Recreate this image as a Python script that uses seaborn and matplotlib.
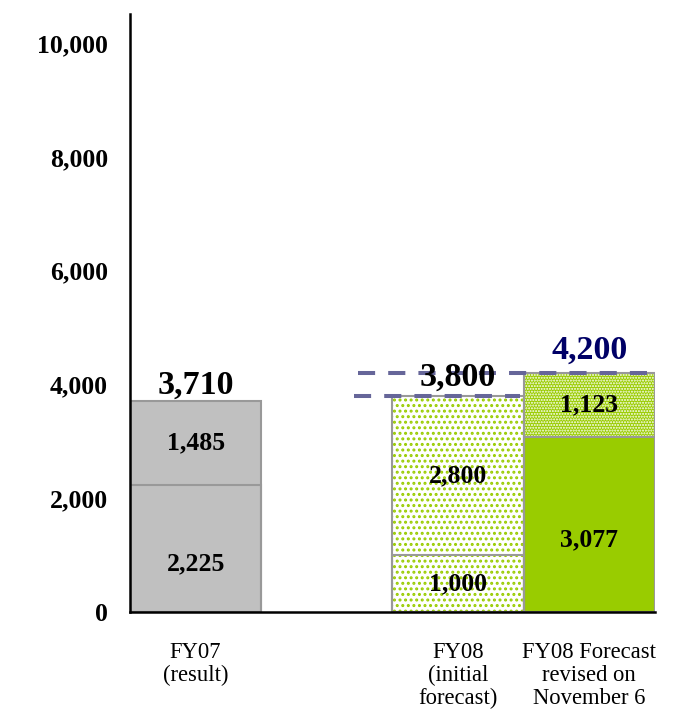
import numpy as np
import pandas as pd
import matplotlib
matplotlib.use("Agg")
import matplotlib.pyplot as plt
import seaborn as sns

# ---- data ----
categories = ["FY07\n(result)", "", "FY08\n(initial\nforecast)", "FY08 Forecast\nrevised on\nNovember 6"]
lower_values = [2225, np.nan, 1000, 3077]
upper_values = [1485, np.nan, 2800, 1123]
total_values = [3710, np.nan, 3800, 4200]
y_ticks = [0, 2000, 4000, 6000, 8000, 10000]

# ---- style ----
sns.set_style("white")
plt.rcParams["font.family"] = ["Liberation Serif", "DejaVu Serif"]
plt.rcParams["hatch.linewidth"] = 1.0
plt.rcParams["text.color"] = "black"
plt.rcParams["xtick.color"] = "black"
plt.rcParams["ytick.color"] = "black"
plt.rcParams["axes.labelcolor"] = "black"

GRAY = "#C0C0C0"
EDGE = "#999999"
GREEN = "#99CC00"
WHITE = "#FFFFFF"
DASH = "#666699"
NAVY = "#000066"

top_face = [GRAY, None, WHITE, GREEN]
top_hatch = [None, None, "...", "......"]
top_hatch_col = [None, None, GREEN, WHITE]
top_hatch_lw = [None, None, 1.4, 1.0]
low_face = [GRAY, None, WHITE, GREEN]
low_hatch = [None, None, "...", None]
low_hatch_col = [None, None, GREEN, None]
low_hatch_lw = [None, None, 1.4, None]

fig = plt.figure(figsize=(6.77, 7.09), dpi=100)
ax = fig.add_axes([0.192, 0.1368, 0.7755, 0.8432])

df = pd.DataFrame({"cat": categories, "low": lower_values, "up": upper_values, "tot": total_values})


def style_layer(new_patches, faces, hatches, hcols, hlws):
    for p in new_patches:
        i = int(round(p.get_x() + p.get_width() / 2))
        p.set_facecolor(faces[i])
        p.set_linewidth(0)
        if hatches[i]:
            p.set_hatch(hatches[i])
            p.set_edgecolor(hcols[i])
            if hasattr(p, "set_hatch_linewidth"):
                p.set_hatch_linewidth(hlws[i])
        else:
            p.set_edgecolor(faces[i])


n0 = len(ax.patches)
sns.barplot(data=df, x="cat", y="tot", order=categories, color=GRAY, width=1.0,
            errorbar=None, ax=ax)
style_layer(ax.patches[n0:], top_face, top_hatch, top_hatch_col, top_hatch_lw)

n0 = len(ax.patches)
sns.barplot(data=df, x="cat", y="low", order=categories, color=GRAY, width=1.0,
            errorbar=None, ax=ax)
style_layer(ax.patches[n0:], low_face, low_hatch, low_hatch_col, low_hatch_lw)

# outlines
sns.barplot(data=df, x="cat", y="tot", order=categories, color=EDGE, width=1.0,
            errorbar=None, fill=False, linewidth=1.5, ax=ax)
sns.barplot(data=df, x="cat", y="low", order=categories, color=EDGE, width=1.0,
            errorbar=None, fill=False, linewidth=1.5, ax=ax)

# dashed reference lines
ax.plot([1.21, 2.47], [total_values[2], total_values[2]], color=DASH, lw=2.9,
        linestyle=(0, (4.25, 3.25)), dash_capstyle="butt", zorder=4)
ax.plot([1.24, 3.5], [total_values[3], total_values[3]], color=DASH, lw=2.9,
        linestyle=(0, (4.25, 3.25)), dash_capstyle="butt", zorder=4)

# segment labels
low_dy = [-11, 0, 0, -11]
for i in range(len(categories)):
    lv, uv = lower_values[i], upper_values[i]
    if np.isnan(lv):
        continue
    ax.annotate(f"{lv:,.0f}", xy=(i, lv / 2), xytext=(0, low_dy[i]), textcoords="offset points",
                ha="center", va="center", fontsize=18.5, fontweight="bold", color="black", zorder=5)
    ax.annotate(f"{uv:,.0f}", xy=(i, lv + uv / 2), xytext=(0, 0), textcoords="offset points",
                ha="center", va="center", fontsize=18.5, fontweight="bold", color="black", zorder=5)

# total labels
tot_dy = [11, 13.5, 16.5]
tot_col = ["black", "black", NAVY]
k = 0
for i in range(len(categories)):
    t = total_values[i]
    if np.isnan(t):
        continue
    ax.annotate(f"{t:,.0f}", xy=(i, t), xytext=(0, tot_dy[k]), textcoords="offset points",
                ha="center", va="center", fontsize=24.5, fontweight="bold", color=tot_col[k], zorder=6)
    k += 1

# axes
ax.set_ylim(0, 10510)
ax.set_xlim(-0.5, 3.5)
ax.set_yticks(y_ticks)
ax.set_yticklabels([f"{v:,}" for v in y_ticks], fontsize=18.5, fontweight="bold", color="black")
ax.set_xticks(range(len(categories)))
ax.set_xticklabels(categories, fontsize=16.3, linespacing=1.13, color="black")
ax.set_xticks([-0.5, 0.5, 1.5, 2.5, 3.5], minor=True)
ax.tick_params(axis="x", which="major", length=0, pad=21.5)
ax.tick_params(axis="x", which="minor", direction="in", length=5, width=1.5, color="black")
ax.tick_params(axis="y", which="major", direction="in", length=6.5, width=1.5, color="black", pad=16)
ax.set_xlabel("")
ax.set_ylabel("")
for s in ["top", "right"]:
    ax.spines[s].set_visible(False)
for s in ["left", "bottom"]:
    ax.spines[s].set_color("black")
    ax.spines[s].set_linewidth(1.8)
    ax.spines[s].set_zorder(7)

fig.savefig("out.png", dpi=100)
